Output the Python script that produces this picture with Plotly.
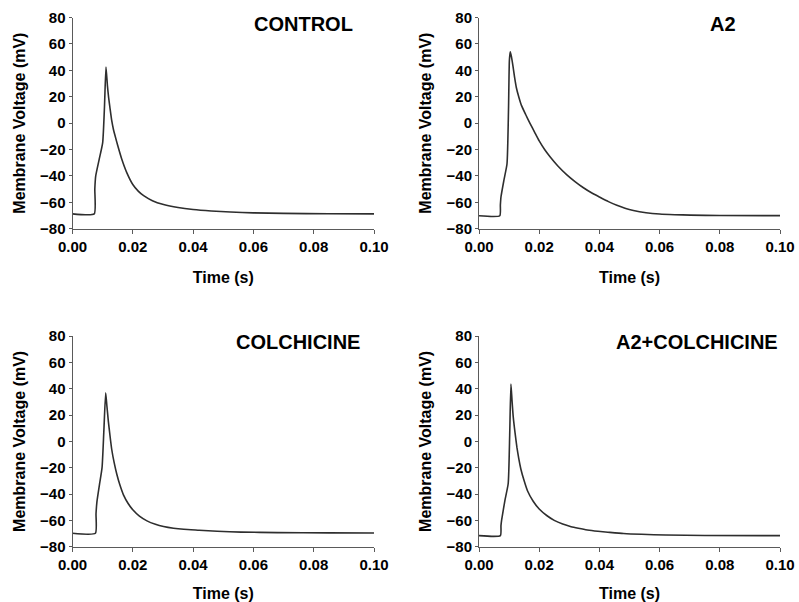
import plotly.graph_objects as go

# ---- data (time in s, membrane voltage in mV) ----
control_t = [0, 0.0072, 0.0074, 0.0077, 0.0088, 0.0100, 0.0106, 0.0111, 0.0116, 0.0120, 0.0124, 0.0130, 0.0136, 0.0141, 0.0150, 0.0163, 0.0180, 0.0200, 0.0218, 0.0236, 0.0265, 0.0302, 0.0350, 0.0400, 0.0460, 0.0524, 0.0600, 0.0700, 0.0850, 0.1000]
control_v = [-68.8, -68.8, -50, -40, -28, -15, 12, 42.5, 28, 19, 12, 2, -5, -9.4, -17, -27, -37.5, -46.5, -51.5, -55, -58.8, -61.7, -64, -65.5, -66.6, -67.4, -68, -68.4, -68.7, -68.8]

a2_t = [0, 0.0069, 0.0071, 0.0073, 0.0083, 0.0093, 0.0098, 0.0101, 0.0104, 0.0108, 0.0113, 0.0118, 0.0124, 0.0132, 0.0141, 0.0155, 0.0169, 0.0185, 0.0200, 0.0218, 0.0236, 0.0262, 0.0291, 0.0320, 0.0347, 0.0375, 0.0400, 0.0430, 0.0458, 0.0485, 0.0513, 0.0555, 0.0600, 0.0650, 0.0702, 0.0800, 0.1000]
a2_v = [-70.2, -70.2, -62, -56, -43, -31, 10, 47.6, 54, 50, 43, 35, 27, 20, 13.4, 6.5, 0, -7, -13.5, -20, -25.5, -32.5, -39, -44.5, -49, -53, -56, -59.5, -62.3, -64.5, -66.2, -67.9, -68.9, -69.4, -69.7, -70, -70.1]

colch_t = [0, 0.0076, 0.0078, 0.0081, 0.0090, 0.0098, 0.0104, 0.0110, 0.0114, 0.0119, 0.0124, 0.0130, 0.0138, 0.0147, 0.0157, 0.0169, 0.0184, 0.0200, 0.0222, 0.0247, 0.0275, 0.0302, 0.0335, 0.0369, 0.0420, 0.0480, 0.0560, 0.0680, 0.0850, 0.1000]
colch_v = [-69.8, -69.8, -55, -46, -32, -20, 8, 36.8, 27, 15, 5, -6, -16, -25, -33, -40.6, -47, -52, -56.8, -60.4, -63, -64.7, -66, -66.8, -67.5, -68.3, -68.9, -69.3, -69.5, -69.6]

a2colch_t = [0, 0.0071, 0.0073, 0.0075, 0.0086, 0.0097, 0.0102, 0.0106, 0.0110, 0.0114, 0.0120, 0.0126, 0.0132, 0.0139, 0.0150, 0.0161, 0.0180, 0.0200, 0.0225, 0.0250, 0.0278, 0.0306, 0.0330, 0.0360, 0.0395, 0.0428, 0.0480, 0.0540, 0.0620, 0.0750, 0.1000]
a2colch_v = [-71.6, -71.6, -64, -60, -45, -32, 5, 43.5, 30, 18, 6, -4.6, -13, -21, -30, -37.5, -45.5, -51.4, -56.3, -60, -62.8, -64.8, -66, -67.3, -68.3, -69, -70, -70.6, -71.1, -71.5, -71.6]

panel_titles = ["CONTROL", "A2", "COLCHICINE", "A2+COLCHICINE"]
series_t = [control_t, a2_t, colch_t, a2colch_t]
series_v = [control_v, a2_v, colch_v, a2colch_v]

x_ticks = [0.00, 0.02, 0.04, 0.06, 0.08, 0.10]
y_ticks = [-80, -60, -40, -20, 0, 20, 40, 60, 80]
x_title = "Time (s)"
y_title = "Membrane Voltage (mV)"

# ---- layout geometry ----
W, H = 799, 602


def fx(px):
    return px / W


def fy(py):
    return 1 - py / H


x_domains = [(fx(72.5), fx(374)), (fx(479), fx(780))]
y_domains = [(fy(228.7), fy(17.5)), (fy(546.7), fy(336))]
title_pos = [(355, 24.5), (738, 24.5), (362, 341.7), (780, 341.7)]

FONT = "Liberation Sans, Arial, sans-serif"
AXIS_COLOR = "#5a5a5a"

fig = go.Figure()
layout = dict(
    width=W, height=H,
    margin=dict(l=0, r=0, t=0, b=0, autoexpand=False),
    paper_bgcolor="white", plot_bgcolor="white",
    showlegend=False,
    font=dict(family=FONT, color="black"),
    annotations=[],
)

for i in range(4):
    row, col = divmod(i, 2)
    xa = "xaxis" if i == 0 else f"xaxis{i+1}"
    ya = "yaxis" if i == 0 else f"yaxis{i+1}"
    xr = "x" if i == 0 else f"x{i+1}"
    yr = "y" if i == 0 else f"y{i+1}"
    fig.add_trace(go.Scatter(
        x=series_t[i], y=series_v[i], mode="lines",
        line=dict(color="#2e2e2e", width=1.6, shape="spline", smoothing=0.5),
        xaxis=xr, yaxis=yr, hoverinfo="x+y",
    ))
    layout[xa] = dict(
        domain=list(x_domains[col]), anchor=yr, automargin=False,
        range=[0, 0.1], tickvals=x_ticks, tickformat=".2f",
        showgrid=False, zeroline=False,
        showline=True, linecolor=AXIS_COLOR, linewidth=1,
        ticks="outside", ticklen=4, tickcolor=AXIS_COLOR, tickwidth=1,
        tickfont=dict(family=FONT, size=15, color="black", weight="bold"),
        title=dict(text=x_title, standoff=18,
                   font=dict(family=FONT, size=16, color="black", weight="bold")),
    )
    layout[ya] = dict(
        domain=list(y_domains[row]), anchor=xr, automargin=False,
        range=[-80, 80], tickvals=y_ticks,
        showgrid=False, zeroline=False,
        showline=True, linecolor=AXIS_COLOR, linewidth=1,
        ticks="outside", ticklen=3, tickcolor=AXIS_COLOR, tickwidth=1,
        tickfont=dict(family=FONT, size=15, color="black", weight="bold"),
        title=dict(text=y_title, standoff=10,
                   font=dict(family=FONT, size=16, color="black", weight="bold")),
    )
    tx, ty = title_pos[i]
    layout["annotations"].append(dict(
        text=panel_titles[i], xref="paper", yref="paper",
        x=fx(tx), y=fy(ty), xanchor="right", yanchor="middle",
        showarrow=False,
        font=dict(family=FONT, size=20, color="black", weight="bold"),
    ))

fig.update_layout(**layout)
# remove the default 8px page margin so the figure fills the window exactly
fig.write_html(
    "out.html",
    config={"displayModeBar": False},
    post_script="document.body.style.margin='0';document.body.style.overflow='hidden';",
)
